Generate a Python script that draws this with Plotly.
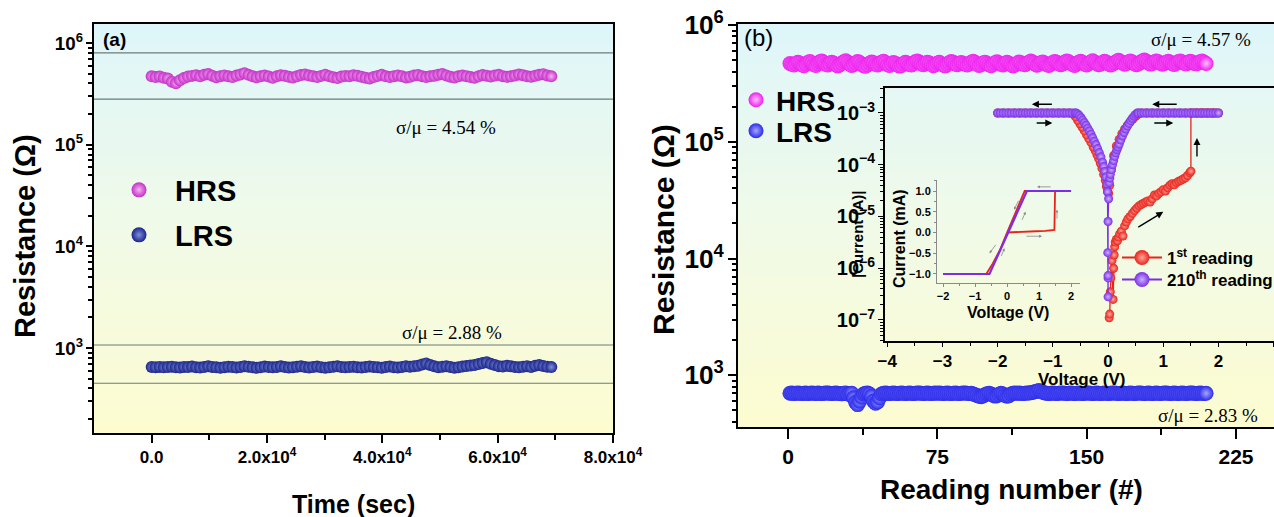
import math
import plotly.graph_objects as go

W, H = 1274, 517
def px(x): return x / W
def py(y): return 1 - y / H

# ---------------- data ----------------
# Panel (a): retention vs time
time_step_s = 700
hrs_a_kohm = [470,462,468,455,448,415,402,430,452,468,
              475,482,470,488,495,476,460,472,480,470,
              462,478,490,505,486,470,460,472,478,468,
              455,470,482,476,465,458,470,484,490,478,
              470,462,475,488,472,460,452,468,475,470,
              482,476,466,455,448,462,475,486,470,462,
              472,480,470,458,466,478,485,472,462,470,
              476,488,495,480,466,458,470,478,472,462,
              455,470,484,476,468,478,486,472,465,470,
              478,490,482,470,465,476,488,494,480,470]
lrs_a_ohm = [650,648,652,645,650,655,648,644,652,650,
             656,648,642,650,660,652,646,640,648,655,
             650,644,652,662,654,646,638,648,656,650,
             645,652,660,650,642,648,654,662,650,644,
             650,656,648,640,646,654,660,652,645,650,
             655,648,642,650,658,652,646,640,650,656,
             648,644,652,660,654,662,670,690,705,680,
             660,648,655,662,650,640,648,656,664,672,
             680,695,712,725,700,680,662,656,668,660,
             650,645,655,662,650,670,680,665,655,650]
time_a = [i * time_step_s for i in range(len(hrs_a_kohm))]
band_lines_a = [8.0e5, 2.8e5, 1.07e3, 4.5e2]
cv_texts = ["σ/μ = 4.54 %", "σ/μ = 2.88 %", "σ/μ = 4.57 %", "σ/μ = 2.83 %"]
xticks_a = [0, 20000, 40000, 60000, 80000]
xticktext_a = ["0.0", "2.0x10<sup>4</sup>", "4.0x10<sup>4</sup>", "6.0x10<sup>4</sup>", "8.0x10<sup>4</sup>"]

# Panel (b): endurance vs reading number
hrs_b_kohm = [470,462,455,468,480,472,458,450,465,478,
              488,475,460,452,470,485,492,478,462,455,
              468,480,472,460,448,458,472,486,495,480,
              465,452,460,475,488,478,462,450,444,458,
              472,484,476,462,455,468,482,490,476,460,
              452,466,478,470,458,446,452,468,480,472,
              460,455,470,486,494,480,466,458,470,482,
              474,462,450,458,472,480,468,456,448,462,
              476,488,480,466,458,470,478,470,462,455,
              466,480,490,478,464,452,460,474,482,470,
              458,450,462,476,486,474,462,456,468,480,
              472,460,448,456,470,484,476,464,458,470,
              482,492,480,466,454,462,476,484,472,460,
              452,464,478,488,480,468,458,466,480,494,
              486,472,460,452,466,480,490,478,464,456,
              470,484,496,484,470,458,464,478,490,482,
              468,456,462,476,488,500,488,474,462,470,
              484,494,482,468,458,466,480,492,502,490,
              476,464,470,484,494,486,472,462,470,482,
              490,480,468,460,472,486,494,484,472,466,
              478,490,484,472,466,474,486,492,480,470]
lrs_b_ohm = [700,702,698,700,704,700,696,700,702,698,
             700,704,700,698,702,700,696,700,702,704,
             700,698,700,702,700,696,692,700,704,690,
             698,700,640,585,560,600,650,690,700,702,
             690,660,600,575,590,640,690,700,702,700,
             698,700,702,700,698,700,704,700,696,700,
             702,700,698,700,702,704,700,698,700,702,
             700,696,700,702,700,704,700,698,700,702,
             700,698,700,702,700,696,700,702,704,700,
             698,700,690,680,670,660,655,665,680,695,
             700,690,675,662,668,685,700,690,672,660,
             668,690,700,702,700,704,700,698,700,702,
             704,708,715,722,730,738,728,715,705,700,
             698,700,702,700,696,700,702,704,700,698,
             700,702,700,698,700,702,700,696,700,702,
             704,700,698,700,702,700,698,700,702,700,
             696,700,702,704,700,698,700,702,700,698,
             700,702,700,696,700,702,704,700,698,700,
             702,700,698,700,702,700,696,700,702,704,
             700,698,700,702,700,698,700,702,700,696,
             700,702,704,700,698,700,702,700,698,700]
reading_b = list(range(1, len(hrs_b_kohm) + 1))

# Inset: |I|-V (log), 1st reading (red)
r1_v = [0.02,0.03,0.04,0.05,0.07,0.09,0.10,0.11,0.12,0.13,0.15,0.17,0.19,0.21,0.24,0.27,0.30,0.33,0.36,0.40,
        0.44,0.48,0.52,0.56,0.60,0.64,0.68,0.72,0.76,0.80,0.84,0.88,0.92,0.96,1.00,1.04,1.08,1.12,1.16,1.20,
        1.24,1.28,1.32,1.36,1.40,1.44,1.48,1.50,1.50,1.55,1.60,1.65,1.70,1.75,1.80,1.85,1.90,1.95,2.00,
        1.90,1.80,1.70,1.60,1.50,1.40,1.30,1.20,1.10,1.00,0.90,0.80,0.70,0.60,0.55,0.50,0.45,0.40,0.35,0.30,
        0.25,0.20,0.15,0.10,0.06,0.03,0.01,-0.01,-0.03,-0.05,-0.08,-0.11,-0.14,-0.17,-0.20,-0.23,-0.27,-0.31,
        -0.35,-0.39,-0.43,-0.47,-0.51,-0.55,-0.59,-0.63,-0.70,-0.80,-0.90,-1.00,-1.10,-1.20,-1.30,-1.40,-1.50,
        -1.60,-1.70,-1.80,-1.90,-2.00]
r1_i = [1.1e-7,1.3e-7,3.5e-7,6.5e-7,1.4e-6,2.5e-7,1.0e-6,1.8e-6,2.6e-6,3.2e-6,3.6e-6,3.4e-6,4.0e-6,4.6e-6,5.2e-6,4.2e-6,6.6e-6,7.8e-6,9.0e-6,1.0e-5,
        1.15e-5,1.3e-5,1.45e-5,1.6e-5,1.7e-5,1.8e-5,1.9e-5,2.0e-5,1.9e-5,2.2e-5,2.6e-5,2.5e-5,2.8e-5,3.0e-5,3.3e-5,3.1e-5,3.6e-5,4.0e-5,4.3e-5,4.1e-5,
        4.5e-5,4.8e-5,5.0e-5,5.3e-5,5.6e-5,6.2e-5,7.0e-5,7.5e-5,1.0e-3,1.0e-3,1.0e-3,1.0e-3,1.0e-3,1.0e-3,1.0e-3,1.0e-3,1.0e-3,1.0e-3,1.0e-3,
        1.0e-3,1.0e-3,1.0e-3,1.0e-3,1.0e-3,1.0e-3,1.0e-3,1.0e-3,1.0e-3,1.0e-3,1.0e-3,1.0e-3,1.0e-3,1.0e-3,9.5e-4,8.6e-4,7.6e-4,6.7e-4,5.8e-4,4.9e-4,
        4.0e-4,3.1e-4,2.3e-4,1.5e-4,8.0e-5,4.0e-5,2.8e-5,3.0e-5,3.8e-5,5.0e-5,6.5e-5,8.5e-5,1.07e-4,1.3e-4,1.55e-4,1.85e-4,2.2e-4,2.7e-4,
        3.2e-4,3.8e-4,4.5e-4,5.3e-4,6.2e-4,7.2e-4,8.4e-4,9.6e-4,1.0e-3,1.0e-3,1.0e-3,1.0e-3,1.0e-3,1.0e-3,1.0e-3,1.0e-3,1.0e-3,
        1.0e-3,1.0e-3,1.0e-3,1.0e-3,1.0e-3]

# Inset: 210th reading (purple)
r210_v = [-2.00,-1.95,-1.90,-1.85,-1.80,-1.75,-1.70,-1.65,-1.60,-1.55,-1.50,-1.45,-1.40,-1.35,-1.30,-1.25,-1.20,-1.15,-1.10,-1.05,
          -1.00,-0.95,-0.90,-0.85,-0.80,-0.75,-0.70,-0.65,-0.60,-0.58,-0.55,-0.52,-0.49,-0.46,-0.43,-0.40,-0.37,-0.34,-0.31,-0.28,
          -0.25,-0.22,-0.19,-0.16,-0.13,-0.10,-0.08,-0.06,-0.04,-0.02,-0.01,-0.005,0.00,0.00,0.00,0.00,0.01,0.02,0.03,0.04,
          0.06,0.08,0.10,0.12,0.14,0.16,0.18,0.20,0.23,0.26,0.29,0.32,0.35,0.38,0.41,0.44,0.47,0.50,0.53,0.55,
          0.60,0.65,0.70,0.75,0.80,0.85,0.90,0.95,1.00,1.05,1.10,1.15,1.20,1.25,1.30,1.35,1.40,1.45,1.50,1.55,
          1.60,1.65,1.70,1.75,1.80,1.85,1.90,1.95,2.00]
r210_i = [1e-3,1e-3,1e-3,1e-3,1e-3,1e-3,1e-3,1e-3,1e-3,1e-3,1e-3,1e-3,1e-3,1e-3,1e-3,1e-3,1e-3,1e-3,1e-3,1e-3,
          1e-3,1e-3,1e-3,1e-3,1e-3,1e-3,1e-3,1e-3,1e-3,1.0e-3,9.6e-4,8.9e-4,8.1e-4,7.3e-4,6.5e-4,5.8e-4,5.1e-4,4.5e-4,3.9e-4,3.35e-4,
          2.85e-4,2.45e-4,2.05e-4,1.72e-4,1.42e-4,1.12e-4,9.2e-5,7.4e-5,5.8e-5,4.2e-5,3.0e-5,2.0e-6,2.8e-7,6.5e-7,7.2e-7,8.0e-6,2.2e-5,4.5e-5,5.5e-5,6.5e-5,
          8.0e-5,1.0e-4,1.2e-4,1.45e-4,1.7e-4,1.95e-4,2.2e-4,2.5e-4,3.0e-4,3.6e-4,4.2e-4,4.9e-4,5.6e-4,6.3e-4,7.1e-4,7.9e-4,8.7e-4,9.4e-4,1.0e-3,1e-3,
          1e-3,1e-3,1e-3,1e-3,1e-3,1e-3,1e-3,1e-3,1e-3,1e-3,1e-3,1e-3,1e-3,1e-3,1e-3,1e-3,1e-3,1e-3,1e-3,1e-3,
          1e-3,1e-3,1e-3,1e-3,1e-3,1e-3,1e-3,1e-3,1e-3]

# Inner inset: linear I-V (mA)
r1_lin_v = [0.0, 0.3, 0.6, 0.9, 1.2, 1.48, 1.5, 2.0, 0.55, 0.0, -0.22, -0.45, -0.65, -2.0]
r1_lin_i = [0.0, 0.015, 0.02, 0.03, 0.04, 0.06, 1.0, 1.0, 1.0, 0.0, -0.42, -0.75, -1.0, -1.0]
r210_lin_v = [-2.0, -0.55, 0.0, 0.62, 2.0]
r210_lin_i = [-1.0, -1.0, -0.06, 1.0, 1.0]

# ---------------- style ----------------
SANS = "Liberation Sans, Arial, Helvetica, sans-serif"
SERIF = "Liberation Serif, Times New Roman, serif"
C_HRS_A, C_HRS_A_HI = "#c530c8", "#f6b2f4"
C_LRS_A, C_LRS_A_HI = "#1b2588", "#7f8fe0"
C_HRS_B, C_HRS_B_HI = "#ee1fee", "#ffc0ff"
C_LRS_B, C_LRS_B_HI = "#2b2bea", "#a6a6ff"
C_RED, C_RED_HI = "#e8231a", "#ffa79c"
C_PUR, C_PUR_HI = "#7a2fe6", "#cfb0ff"

def ball(color, hi, size, line=0):
    return dict(color=color, size=size, gradient=dict(type="radial", color=hi),
                line=dict(width=line, color=color))

fig = go.Figure()

# panel (a)
fig.add_trace(go.Scatter(x=time_a, y=[v * 1e3 for v in hrs_a_kohm], mode="markers",
                         marker=ball(C_HRS_A, C_HRS_A_HI, 12), xaxis="x", yaxis="y", showlegend=False))
fig.add_trace(go.Scatter(x=time_a, y=lrs_a_ohm, mode="markers",
                         marker=ball(C_LRS_A, C_LRS_A_HI, 12), xaxis="x", yaxis="y", showlegend=False))
# panel (b)
fig.add_trace(go.Scatter(x=reading_b, y=[v * 1e3 for v in hrs_b_kohm], mode="markers",
                         marker=ball(C_HRS_B, C_HRS_B_HI, 15), xaxis="x2", yaxis="y2", showlegend=False))
fig.add_trace(go.Scatter(x=reading_b, y=lrs_b_ohm, mode="markers",
                         marker=ball(C_LRS_B, C_LRS_B_HI, 15), xaxis="x2", yaxis="y2", showlegend=False))
# inset log I-V
fig.add_trace(go.Scatter(x=r1_v, y=r1_i, mode="lines+markers", line=dict(color=C_RED, width=1.3),
                         marker=ball(C_RED, C_RED_HI, 9), xaxis="x3", yaxis="y3", showlegend=False))
fig.add_trace(go.Scatter(x=r210_v, y=r210_i, mode="lines+markers", line=dict(color=C_PUR, width=1.3),
                         marker=ball(C_PUR, C_PUR_HI, 9), xaxis="x3", yaxis="y3", showlegend=False))
# inner inset linear I-V
fig.add_trace(go.Scatter(x=r1_lin_v, y=r1_lin_i, mode="lines", line=dict(color=C_RED, width=1.8),
                         xaxis="x4", yaxis="y4", showlegend=False))
fig.add_trace(go.Scatter(x=r210_lin_v, y=r210_lin_i, mode="lines", line=dict(color=C_PUR, width=2.2),
                         xaxis="x4", yaxis="y4", showlegend=False))

# legend-only entries
leg_entries = [
    ("HRS", "markers", C_HRS_A, C_HRS_A_HI, "legend", "x", "y"),
    ("LRS", "markers", C_LRS_A, C_LRS_A_HI, "legend2", "x", "y"),
    ("HRS", "markers", C_HRS_B, C_HRS_B_HI, "legend3", "x2", "y2"),
    ("LRS", "markers", C_LRS_B, C_LRS_B_HI, "legend4", "x2", "y2"),
    ("1<sup>st</sup> reading", "lines+markers", C_RED, C_RED_HI, "legend5", "x3", "y3"),
    ("210<sup>th</sup> reading", "lines+markers", C_PUR, C_PUR_HI, "legend6", "x3", "y3"),
]
for name, mode, c, hi, lg, xa, ya in leg_entries:
    fig.add_trace(go.Scatter(x=[None], y=[None], mode=mode, name=name, legend=lg,
                             marker=ball(c, hi, 15), line=dict(color=c, width=2),
                             xaxis=xa, yaxis=ya, showlegend=True))

def legend_box(xp, yp, size, iw=30):
    return dict(x=px(xp), y=py(yp), xanchor="left", yanchor="middle", bgcolor="rgba(0,0,0,0)",
                borderwidth=0, itemwidth=iw,
                font=dict(family=SANS, size=size, color="black", weight="bold"))

# background gradients
stops = [(0.0, (222, 246, 250)), (0.5, (240, 250, 232)), (1.0, (253, 252, 208))]
def col_at(t):
    for (t0, c0), (t1, c1) in zip(stops[:-1], stops[1:]):
        if t <= t1:
            f = (t - t0) / (t1 - t0)
            return "rgb(%d,%d,%d)" % tuple(round(a + (b - a) * f) for a, b in zip(c0, c1))
    return "rgb(%d,%d,%d)" % stops[-1][1]

shapes = []
NB = 40
for xr, yr in [("x domain", "y domain"), ("x2 domain", "y2 domain")]:
    for k in range(NB):
        shapes.append(dict(type="rect", xref=xr, yref=yr, x0=0, x1=1,
                           y0=1 - (k + 1) / NB, y1=1 - k / NB + 0.002,
                           fillcolor=col_at((k + 0.5) / NB), line=dict(width=0), layer="below"))
for v in band_lines_a:
    shapes.append(dict(type="line", xref="x domain", yref="y", x0=0, x1=1, y0=v, y1=v,
                       line=dict(color="#6f7a78", width=1.2)))

def ann(text, x, y, size, bold=True, angle=0, family=SANS):
    return dict(text=text, x=px(x), y=py(y), xref="paper", yref="paper", showarrow=False,
                xanchor="center", yanchor="middle", textangle=angle,
                font=dict(family=family, size=size, color="black", weight="bold" if bold else "normal"))

annotations = [
    ann("Resistance (Ω)", 25, 236, 29, angle=-90),
    ann("Time (sec)", 353, 504, 25),
    ann("Resistance (Ω)", 664, 230, 30, angle=-90),
    ann("Reading number (#)", 1011, 489, 28),
    ann("|Current (A)|", 857, 234, 15, angle=-90),
    ann("Voltage (V)", 1082, 379, 17),
    ann("Current (mA)", 899, 239, 16, angle=-90),
    ann("Voltage (V)", 1008, 312, 16),
    ann("(a)", 114, 39, 19),
    ann("(b)", 758, 38, 24, bold=False),
    ann(cv_texts[0], 446, 128, 19, bold=False, family=SERIF),
    ann(cv_texts[1], 452, 332, 19, bold=False, family=SERIF),
    ann(cv_texts[2], 1201, 40, 19, bold=False, family=SERIF),
    ann(cv_texts[3], 1208, 415, 19, bold=False, family=SERIF),
]
def arrow(xh, yh, xt, yt, xa, ya, logy=False, color="black", w=1.4, head=2, hs=1.0):
    if logy:
        yh, yt = math.log10(yh), math.log10(yt)
    return dict(x=xh, y=yh, ax=xt, ay=yt, xref=xa, yref=ya, axref=xa, ayref=ya, text="",
                showarrow=True, arrowhead=head, arrowsize=hs, arrowwidth=w, arrowcolor=color)
annotations += [
    arrow(-1.38, 1.48e-3, -0.99, 1.48e-3, "x3", "y3", True),
    arrow(-1.01, 6.4e-4, -1.32, 6.4e-4, "x3", "y3", True),
    arrow(0.80, 1.48e-3, 1.27, 1.48e-3, "x3", "y3", True),
    arrow(1.18, 6.4e-4, 0.81, 6.4e-4, "x3", "y3", True),
    arrow(1.61, 3.3e-4, 1.61, 1.35e-4, "x3", "y3", True),
    arrow(1.0, 1.23e-5, 0.52, 6.0e-6, "x3", "y3", True),
    arrow(0.94, 1.10, 1.41, 1.10, "x4", "y4", color="#888", w=0.8, hs=0.7),
    arrow(1.56, 0.55, 1.56, 0.30, "x4", "y4", color="#888", w=0.8, hs=0.7),
    arrow(1.09, -0.09, 0.56, -0.09, "x4", "y4", color="#888", w=0.8, hs=0.7),
    arrow(0.22, 0.55, 0.38, 0.80, "x4", "y4", color="#888", w=0.8, hs=0.7),
    arrow(0.58, 0.50, 0.45, 0.27, "x4", "y4", color="#888", w=0.8, hs=0.7),
    arrow(-0.55, -0.50, -0.32, -0.26, "x4", "y4", color="#888", w=0.8, hs=0.7),
    arrow(-0.08, -0.38, -0.20, -0.60, "x4", "y4", color="#888", w=0.8, hs=0.7),
]

axis_common = dict(showgrid=False, zeroline=False, showline=True, linecolor="black", ticks="outside",
                   tickcolor="black")
fig.update_layout(
    width=W, height=H, margin=dict(l=0, r=0, t=0, b=0, autoexpand=False),
    paper_bgcolor="white", plot_bgcolor="rgba(0,0,0,0)",
    shapes=shapes, annotations=annotations,
    xaxis=dict(**axis_common, domain=[px(94), px(613)], range=[-10000, 80000], anchor="y",
               linewidth=2, mirror=True, tickmode="array", tickvals=xticks_a, ticktext=xticktext_a,
               ticklen=8, tickwidth=1.5,
               minor=dict(tickmode="array", tickvals=[10000, 30000, 50000, 70000], ticklen=5,
                          ticks="outside", tickcolor="black", showgrid=False),
               tickfont=dict(family=SANS, size=17, color="black", weight="bold")),
    yaxis=dict(**axis_common, domain=[py(433), py(24)], type="log", range=[2.164, 6.187], anchor="x",
               linewidth=2, mirror=True, dtick=1, exponentformat="power", ticklen=6, tickwidth=1.5,
               minor=dict(dtick="D1", ticklen=4, ticks="outside", tickcolor="black", showgrid=False),
               tickfont=dict(family=SANS, size=15, color="black", weight="bold")),
    xaxis2=dict(**axis_common, domain=[px(738), 1.0], range=[-25.1, 244.1], anchor="y2",
                linewidth=2, mirror=True, tick0=0, dtick=75, ticklen=10, tickwidth=1.5,
                minor=dict(tick0=0, dtick=37.5, ticklen=6, ticks="outside", tickcolor="black", showgrid=False),
                tickfont=dict(family=SANS, size=21, color="black", weight="bold")),
    yaxis2=dict(**axis_common, domain=[py(427), py(24)], type="log", range=[2.556, 6.01], anchor="x2",
                linewidth=2, mirror=False, dtick=1, exponentformat="power", ticklen=8, tickwidth=1.5,
                minor=dict(dtick="D1", ticklen=4, ticks="outside", tickcolor="black", showgrid=False),
                tickfont=dict(family=SANS, size=21, color="black", weight="bold")),
    xaxis3=dict(**axis_common, domain=[px(885), 1.0], range=[-4.04, 3.005], anchor="y3",
                linewidth=1.5, mirror=True, tick0=0, dtick=1, ticklen=4, tickwidth=1.2,
                minor=dict(tick0=0, dtick=0.5, ticklen=3, ticks="outside", tickcolor="black", showgrid=False),
                tickfont=dict(family=SANS, size=17, color="black", weight="bold")),
    yaxis3=dict(**axis_common, domain=[py(341), py(88)], type="log", range=[-7.406, -2.517], anchor="x3",
                linewidth=1.5, mirror=False, dtick=1, exponentformat="power", ticklen=5, tickwidth=1.2,
                minor=dict(dtick="D1", ticklen=3, ticks="outside", tickcolor="black", showgrid=False),
                tickfont=dict(family=SANS, size=16, color="black", weight="bold")),
    xaxis4=dict(showgrid=False, zeroline=False, showline=True, linecolor="#8a8a8a", linewidth=1,
                ticks="outside", tickcolor="#8a8a8a", domain=[px(937), px(1080)], range=[-2.19, 2.28],
                anchor="y4", tick0=0, dtick=1, ticklen=3,
                minor=dict(tick0=0, dtick=0.5, ticklen=2, ticks="outside", tickcolor="#8a8a8a", showgrid=False),
                tickfont=dict(family=SANS, size=11, color="black", weight="bold")),
    yaxis4=dict(showgrid=False, zeroline=False, showline=True, linecolor="#8a8a8a", linewidth=1,
                ticks="outside", tickcolor="#8a8a8a", domain=[py(283), py(180)], range=[-1.217, 1.265],
                anchor="x4", tick0=0, dtick=0.5, tickformat=".1f", ticklen=3,
                minor=dict(tick0=0, dtick=0.25, ticklen=2, ticks="outside", tickcolor="#8a8a8a", showgrid=False),
                tickfont=dict(family=SANS, size=11, color="black", weight="bold")),
    legend=legend_box(103, 190, 29, iw=62),
    legend2=legend_box(103, 235, 29, iw=62),
    legend3=legend_box(736, 100, 28),
    legend4=legend_box(736, 131, 28),
    legend5=legend_box(1117, 258, 17, iw=40),
    legend6=legend_box(1117, 280, 17, iw=40),
)

fig.write_html("out.html",
               post_script="document.documentElement.style.margin='0';"
                           "document.body.style.margin='0';document.body.style.overflow='hidden';")
